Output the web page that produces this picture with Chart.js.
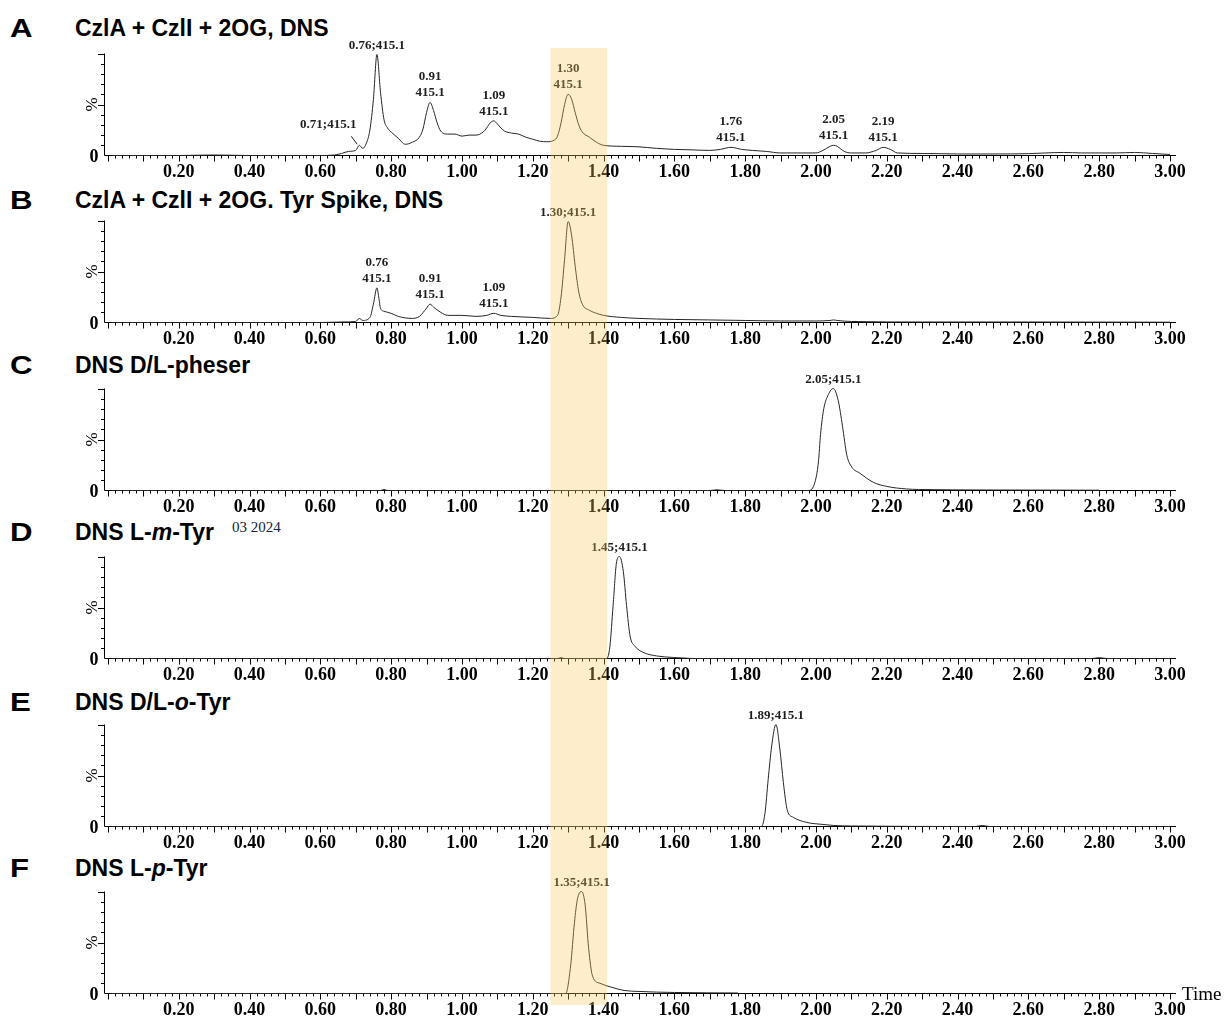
<!DOCTYPE html>
<html>
<head>
<meta charset="utf-8">
<script src="https://cdn.jsdelivr.net/npm/chart.js@4.4.1/dist/chart.umd.min.js"></script>
<style>
  body { margin: 0; background: #fff; }
  #page { position: relative; width: 1227px; height: 1017px; overflow: hidden; }
  #page canvas { position: absolute; left: 0; }
  .tag { position: absolute; left: 10px; font: bold 26px "Liberation Sans", Arial, sans-serif; line-height: 26px; transform: scaleX(1.2); transform-origin: left center; }
  .ttl { position: absolute; left: 75px; font: bold 23px "Liberation Sans", Arial, sans-serif; line-height: 23px; white-space: nowrap; }
  .date { position: absolute; left: 232px; font: 15px "Liberation Serif", serif; line-height: 15px; color: #14213d; }
</style>
</head>
<body>
<div id="page">
  <div class="tag" style="top:15px">A</div><div class="ttl" style="top:17px">CzlA + CzlI + 2OG, DNS</div>
  <div class="tag" style="top:187px">B</div><div class="ttl" style="top:189px">CzlA + CzlI + 2OG. Tyr Spike, DNS</div>
  <div class="tag" style="top:352px">C</div><div class="ttl" style="top:354px">DNS D/L-pheser</div>
  <div class="tag" style="top:519px">D</div><div class="ttl" style="top:521px">DNS L-<i>m</i>-Tyr</div>
  <div class="date" style="top:520px">03 2024</div>
  <div class="tag" style="top:689px">E</div><div class="ttl" style="top:691px">DNS D/L-<i>o</i>-Tyr</div>
  <div class="tag" style="top:855px">F</div><div class="ttl" style="top:857px">DNS L-<i>p</i>-Tyr</div>
</div>
<script>
// 시간축 라벨 (min)
const xTickLabels = ["0.20", "0.40", "0.60", "0.80", "1.00", "1.20", "1.40", "1.60",
  "1.80", "2.00", "2.20", "2.40", "2.60", "2.80", "3.00"];
const xMin = -0.011;
const xMax = 3.017;

// 강조 구간 (1.30 부근)
const bandStart = 1.25;
const bandEnd = 1.41;

// A: CzlA + CzlI + 2OG, DNS
const timesA = [0.01, 0.10, 0.20, 0.30, 0.40, 0.50, 0.60, 0.64, 0.66, 0.68, 0.70, 0.71, 0.72, 0.73,
  0.74, 0.75, 0.76, 0.77, 0.78, 0.79, 0.80, 0.82, 0.84, 0.86, 0.88, 0.89, 0.90, 0.91, 0.92, 0.93,
  0.94, 0.96, 0.98, 1.00, 1.02, 1.04, 1.06, 1.07, 1.08, 1.09, 1.10, 1.11, 1.12, 1.14, 1.16, 1.18,
  1.20, 1.22, 1.24, 1.26, 1.27, 1.28, 1.29, 1.30, 1.31, 1.32, 1.33, 1.34, 1.36, 1.38, 1.40, 1.45,
  1.50, 1.55, 1.60, 1.65, 1.70, 1.73, 1.76, 1.79, 1.82, 1.86, 1.90, 1.95, 2.00, 2.02, 2.04, 2.05,
  2.06, 2.08, 2.10, 2.14, 2.17, 2.19, 2.21, 2.23, 2.30, 2.40, 2.50, 2.60, 2.65, 2.70, 2.75, 2.80,
  2.85, 2.90, 2.95, 3.00];
const valuesA = [0, 0, 0, 0.5, 0, 0, 0, 0.5, 2, 4, 5, 10, 7, 12,
  25, 55, 99, 62, 35, 27, 23, 17, 11, 13, 18, 26, 42, 52, 44, 32,
  24, 21, 21, 19, 20, 20, 23, 27, 32, 34, 31, 27, 24, 22, 21, 18,
  16, 14, 13.5, 15, 19, 32, 50, 60, 55, 42, 30, 23, 18, 13, 10, 9,
  8.5, 7, 6, 5.5, 5, 6, 8, 6, 5, 4, 2.5, 2.5, 2.5, 5, 9, 10,
  9, 4, 2.5, 2.5, 5, 8, 6, 2.5, 2, 1.5, 1.5, 1.8, 2.5, 3, 2.5, 2.5,
  2.5, 3, 2, 1];
const peaksA = [
  { t: 0.71, v: 10, text: ["0.71;415.1"] },
  { t: 0.76, v: 99, text: ["0.76;415.1"] },
  { t: 0.91, v: 52, text: ["0.91", "415.1"] },
  { t: 1.09, v: 34, text: ["1.09", "415.1"] },
  { t: 1.30, v: 60, text: ["1.30", "415.1"] },
  { t: 1.76, v: 8, text: ["1.76", "415.1"] },
  { t: 2.05, v: 10, text: ["2.05", "415.1"] },
  { t: 2.19, v: 8, text: ["2.19", "415.1"] },
];

// B: Tyr spike
const timesB = [0.01, 0.60, 0.66, 0.70, 0.71, 0.72, 0.74, 0.75, 0.76, 0.765, 0.77, 0.78, 0.80,
  0.82, 0.86, 0.88, 0.90, 0.91, 0.92, 0.94, 0.96, 1.00, 1.04, 1.07, 1.09, 1.11, 1.14, 1.20, 1.25,
  1.27, 1.28, 1.29, 1.30, 1.31, 1.32, 1.33, 1.34, 1.36, 1.38, 1.40, 1.45, 1.50, 1.60, 1.70, 1.80,
  1.90, 2.00, 2.04, 2.05, 2.06, 2.10, 2.30, 2.60, 3.00];
const valuesB = [0, 0, 0.5, 1, 4, 2, 5, 18, 34, 25, 14, 11, 9,
  6, 4, 6, 14, 18, 15, 10, 7, 7, 6, 7, 9, 7, 6, 5, 4,
  7, 25, 62, 99, 85, 55, 30, 18, 12, 9, 7, 5, 4, 3, 2.5, 2,
  1.5, 1.5, 2, 2.5, 2, 1, 0.5, 0.5, 0.3];
const peaksB = [
  { t: 0.76, v: 34, text: ["0.76", "415.1"] },
  { t: 0.91, v: 18, text: ["0.91", "415.1"] },
  { t: 1.09, v: 9, text: ["1.09", "415.1"] },
  { t: 1.30, v: 99, text: ["1.30;415.1"] },
];

// C: D/L-pheser
const timesC = [0.01, 0.77, 0.78, 0.79, 1.70, 1.72, 1.74, 1.98, 1.997, 2.007, 2.013, 2.022, 2.035,
  2.049, 2.063, 2.075, 2.087, 2.101, 2.124, 2.162, 2.20, 2.256, 2.29, 2.50, 2.80];
const valuesC = [0, 0, 1, 0, 0, 0.7, 0, 0, 8, 28, 55, 80, 94,
  100, 88, 63, 35, 23, 17, 8, 4, 1.5, 1, 0.5, 0.3];
const peaksC = [{ t: 2.049, v: 100, text: ["2.05;415.1"] }];

// D: L-m-Tyr
const timesD = [0.01, 1.27, 1.28, 1.29, 1.409, 1.418, 1.427, 1.437, 1.445, 1.456, 1.465, 1.475,
  1.489, 1.512, 1.55, 1.597, 1.635, 1.65, 2.78, 2.80, 2.82, 3.00];
const valuesD = [0, 0, 0.8, 0, 0, 12, 52, 95, 100, 85, 52, 22,
  12, 6, 2.5, 1, 0.3, 0, 0, 0.8, 0, 0];
const peaksD = [{ t: 1.445, v: 100, text: ["1.45;415.1"] }];

// E: D/L-o-Tyr
const timesE = [0.01, 1.846, 1.856, 1.865, 1.875, 1.887, 1.898, 1.908, 1.919, 1.936, 1.974, 2.02,
  2.05, 2.10, 2.45, 2.47, 2.49, 3.00];
const valuesE = [0, 0, 13, 46, 79, 100, 76, 43, 16, 9, 4, 2,
  1, 0.5, 0, 1, 0, 0];
const peaksE = [{ t: 1.887, v: 100, text: ["1.89;415.1"] }];

// F: L-p-Tyr
const timesF = [0.01, 1.293, 1.307, 1.318, 1.326, 1.338, 1.348, 1.358, 1.369, 1.39, 1.424, 1.458,
  1.50, 1.60, 1.78];
const valuesF = [0, 0, 27, 70, 92, 100, 87, 44, 17, 10, 6, 3,
  2, 1, 0.5];
const peaksF = [{ t: 1.338, v: 100, text: ["1.35;415.1"] }];

// 패널 배치 (캔버스 위치/높이, 0선 위치)
const panels = [
  { times: timesA, values: valuesA, peaks: peaksA, top: 0, height: 178, zero: 155.5, bandTop: 48 },
  { times: timesB, values: valuesB, peaks: peaksB, top: 178, height: 168, zero: 144.5 },
  { times: timesC, values: valuesC, peaks: peaksC, top: 346, height: 168, zero: 144.5 },
  { times: timesD, values: valuesD, peaks: peaksD, top: 514, height: 168, zero: 144.5 },
  { times: timesE, values: valuesE, peaks: peaksE, top: 682, height: 168, zero: 144.5 },
  { times: timesF, values: valuesF, peaks: peaksF, top: 850, height: 167, zero: 143.5, bandBottom: 155, timeLabel: true },
];
const plotHeight = 102;

// 0.71 피크 라벨은 옆으로 빼고 지시선
const leaderOffset = { t: 0.71, dx: -31, dy: -17 };

const serif = '"Liberation Serif", "Times New Roman", serif';

const chromPlugin = {
  id: "chrom",
  beforeDatasetsDraw(chart) {
    const { ctx, chartArea: a, scales: { x, y } } = chart;
    const p = chart.options.plugins.chrom;
    ctx.save();
    ctx.strokeStyle = "#000";
    ctx.lineWidth = 1;
    ctx.beginPath();
    ctx.moveTo(a.left + 0.5, a.bottom);
    ctx.lineTo(a.right, a.bottom);
    ctx.moveTo(a.left + 0.5, a.bottom);
    ctx.lineTo(a.left + 0.5, y.getPixelForValue(100));
    // x축 눈금 0.02 간격
    for (let i = 0; i <= 150; i++) {
      const px = Math.round(x.getPixelForValue(i * 0.02)) + 0.5;
      const len = i % 5 === 0 ? 6 : 3;
      ctx.moveTo(px, a.bottom);
      ctx.lineTo(px, a.bottom + len);
    }
    // y축 눈금 10% 간격
    for (let v = 10; v <= 100; v += 10) {
      const py = Math.round(y.getPixelForValue(v)) + 0.5;
      const len = v % 50 === 0 ? 6 : 3;
      ctx.moveTo(a.left, py);
      ctx.lineTo(a.left - len, py);
    }
    ctx.stroke();

    ctx.fillStyle = "#000";
    ctx.font = "bold 18px " + serif;
    ctx.textAlign = "center";
    ctx.textBaseline = "alphabetic";
    xTickLabels.forEach((lab) => {
      ctx.fillText(lab, x.getPixelForValue(parseFloat(lab)), a.bottom + 21);
    });
    ctx.fillText("0", 94, a.bottom + 6);

    ctx.save();
    ctx.translate(97, y.getPixelForValue(50));
    ctx.rotate(-Math.PI / 2);
    ctx.font = "17px " + serif;
    ctx.fillText("%", 0, 0);
    ctx.restore();

    if (p.timeLabel) {
      ctx.font = "19px " + serif;
      ctx.textAlign = "left";
      ctx.fillText("Time", a.right + 6, a.bottom + 6);
    }
    ctx.restore();
  },
  afterDatasetsDraw(chart) {
    const { ctx, scales: { x, y } } = chart;
    const p = chart.options.plugins.chrom;
    ctx.save();
    ctx.fillStyle = "#1e1e1e";
    ctx.strokeStyle = "#1e1e1e";
    ctx.font = "bold 13px " + serif;
    ctx.textAlign = "center";
    p.peaks.forEach((pk) => {
      let px = x.getPixelForValue(pk.t);
      let py = y.getPixelForValue(pk.v);
      if (pk.t === leaderOffset.t && pk.text.length === 1 && p.leader) {
        ctx.beginPath();
        ctx.moveTo(px - 2, py - 1);
        ctx.lineTo(px - 8, py - 9);
        ctx.stroke();
        px += leaderOffset.dx;
        py += leaderOffset.dy + 6;
      }
      const n = pk.text.length;
      pk.text.forEach((line, i) => {
        ctx.fillText(line, px, py - 6 - (n - 1 - i) * 16);
      });
    });
    ctx.restore();
  },
  afterDraw(chart) {
    const { ctx, scales: { x } } = chart;
    const p = chart.options.plugins.chrom;
    const x0 = x.getPixelForValue(bandStart);
    const x1 = x.getPixelForValue(bandEnd);
    const top = p.bandTop ?? 0;
    const bottom = p.bandBottom ?? chart.height;
    ctx.save();
    ctx.fillStyle = "rgba(248, 200, 90, 0.32)";
    ctx.fillRect(x0, top, x1 - x0, bottom - top);
    ctx.restore();
  },
};

const page = document.getElementById("page");
panels.forEach((p, idx) => {
  const canvas = document.createElement("canvas");
  canvas.width = 1227;
  canvas.height = p.height;
  canvas.style.top = p.top + "px";
  page.appendChild(canvas);

  new Chart(canvas, {
    type: "line",
    data: {
      datasets: [{
        data: p.times.map((t, i) => ({ x: t, y: p.values[i] })),
        borderColor: "#262626",
        borderWidth: 1,
        pointRadius: 0,
        cubicInterpolationMode: "monotone",
        clip: 8,
      }],
    },
    options: {
      responsive: false,
      animation: false,
      devicePixelRatio: 1,
      events: [],
      layout: {
        padding: { left: 104, right: 51, top: p.zero - plotHeight, bottom: p.height - p.zero },
      },
      scales: {
        x: { type: "linear", min: xMin, max: xMax, display: false },
        y: { min: 0, max: 100, display: false },
      },
      plugins: {
        legend: { display: false },
        tooltip: { enabled: false },
        chrom: {
          peaks: p.peaks,
          leader: idx === 0,
          bandTop: p.bandTop,
          bandBottom: p.bandBottom,
          timeLabel: !!p.timeLabel,
        },
      },
    },
    plugins: [chromPlugin],
  });
});
</script>
</body>
</html>
